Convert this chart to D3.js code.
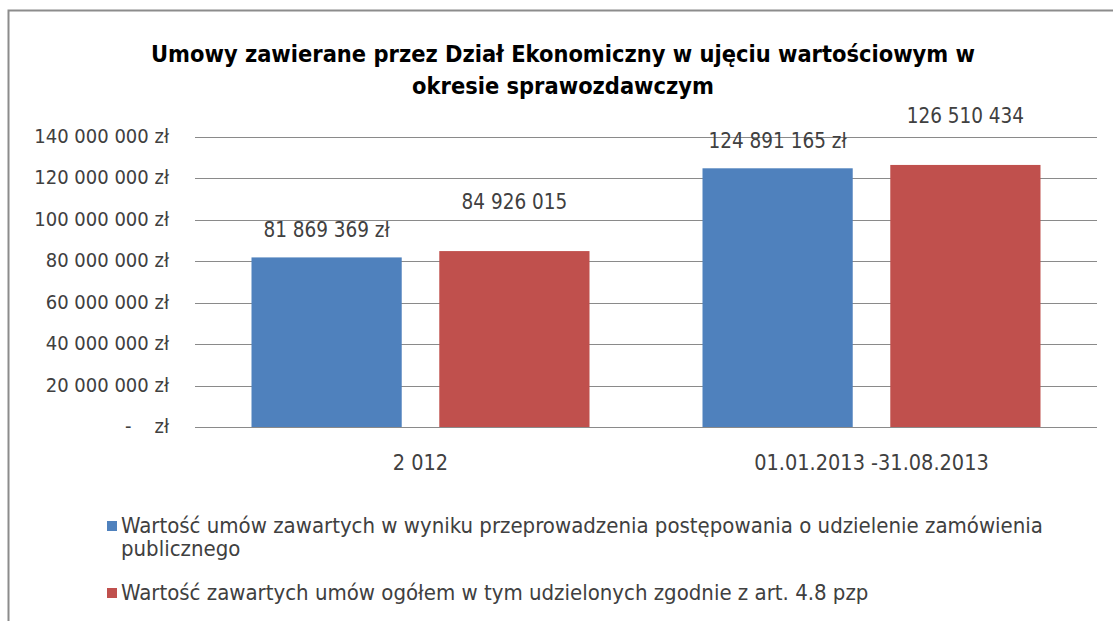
<!DOCTYPE html>
<html><head><meta charset="utf-8">
<script src="https://cdn.jsdelivr.net/npm/d3@7"></script>
<style>
body{margin:0;background:#fff;}
svg{display:block;}
text{font-family:"Liberation Sans Narrow","DejaVu Sans Condensed","Arial Narrow",sans-serif;}
.tick{white-space:pre;}
</style></head>
<body><svg id="c" width="1113" height="621"></svg>
<script>
const categories = ["2 012", "01.01.2013 -31.08.2013"];
const seriesNames = [
  "Wartość umów zawartych w wyniku przeprowadzenia postępowania o udzielenie zamówienia publicznego",
  "Wartość zawartych umów ogółem w tym udzielonych zgodnie z art. 4.8 pzp"
];
const seriesBlue = [81869369, 124891165];
const seriesRed = [84926015, 126510434];
const blueLabels = ["81 869 369 zł", "124 891 165 zł"];
const redLabels = ["84 926 015", "126 510 434"];
const tickValues = [0, 20000000, 40000000, 60000000, 80000000, 100000000, 120000000, 140000000];
const tickLabels = ["-    zł", "20 000 000 zł", "40 000 000 zł", "60 000 000 zł", "80 000 000 zł", "100 000 000 zł", "120 000 000 zł", "140 000 000 zł"];
const colors = ["#4F81BD", "#C0504D"];

const svg = d3.select("#c");
// frame
svg.append("path").attr("d","M8.5,621 V10.5 H1113").attr("fill","none").attr("stroke","#8c8c8c").attr("stroke-width",2);

const L=195, R=1097, T=137, B=427;
const y = d3.scaleLinear().domain([0,140000000]).range([B,T]);
const x0 = d3.scaleBand().domain(categories).range([L,R]).padding(0);
const x1 = d3.scaleBand().domain([0,1]).range([56.5, 394.5]).paddingInner(0.2);

// gridlines
svg.append("g").selectAll("line").data(tickValues).join("line")
  .attr("x1",L).attr("x2",R).attr("y1",d=>Math.round(y(d))+0.5).attr("y2",d=>Math.round(y(d))+0.5)
  .attr("stroke","#8a8a8a").attr("stroke-width",1);

// y tick labels
svg.append("g").selectAll("text").data(tickValues).join("text")
  .attr("class","tick")
  .attr("x",169).attr("y",d=>y(d)+6).attr("text-anchor","end")
  .attr("font-size",20).attr("fill","#404040")
  .text((d,i)=>tickLabels[i]);

const data = categories.map((c,i)=>[{c,s:0,v:seriesBlue[i],lab:blueLabels[i]},{c,s:1,v:seriesRed[i],lab:redLabels[i]}]).flat();

svg.append("g").selectAll("rect").data(data).join("rect")
  .attr("x",d=>x0(d.c)+x1(d.s)).attr("width",x1.bandwidth())
  .attr("y",d=>y(d.v)).attr("height",d=>B-y(d.v))
  .attr("fill",d=>colors[d.s]);

// zero line on top
svg.append("line").attr("x1",L).attr("x2",R).attr("y1",B+0.5).attr("y2",B+0.5).attr("stroke","#8a8a8a");

// data labels
svg.append("g").selectAll("text").data(data).join("text")
  .attr("x",d=>x0(d.c)+x1(d.s)+x1.bandwidth()/2)
  .attr("y",d=>y(d.v)-(d.s===0?20:42))
  .attr("text-anchor","middle").attr("font-size",20.5).attr("fill","#404040")
  .text(d=>d.lab);

// category labels
svg.append("g").selectAll("text").data(categories).join("text")
  .attr("x",d=>x0(d)+x0.bandwidth()/2).attr("y",470)
  .attr("text-anchor","middle").attr("font-size",21.5).attr("fill","#404040")
  .text(d=>d);

// title
const title = svg.append("text").attr("text-anchor","middle").attr("font-size",23.4).attr("font-weight","bold").attr("fill","#000");
title.append("tspan").attr("x",563).attr("y",62).text("Umowy zawierane przez Dział Ekonomiczny  w ujęciu wartościowym w");
title.append("tspan").attr("x",563).attr("y",94).text("okresie sprawozdawczym");

// legend
const lg = svg.append("g");
lg.append("rect").attr("x",107).attr("y",521).attr("width",10).attr("height",10).attr("fill",colors[0]);
lg.append("text").attr("x",121).attr("y",533).attr("font-size",22).attr("fill","#404040")
  .text("Wartość umów zawartych w wyniku przeprowadzenia postępowania o udzielenie zamówienia");
lg.append("text").attr("x",121).attr("y",556).attr("font-size",22).attr("fill","#404040").text("publicznego");
lg.append("rect").attr("x",107).attr("y",588).attr("width",10).attr("height",10).attr("fill",colors[1]);
lg.append("text").attr("x",121).attr("y",600).attr("font-size",22).attr("fill","#404040").text(seriesNames[1]);
</script></body></html>
